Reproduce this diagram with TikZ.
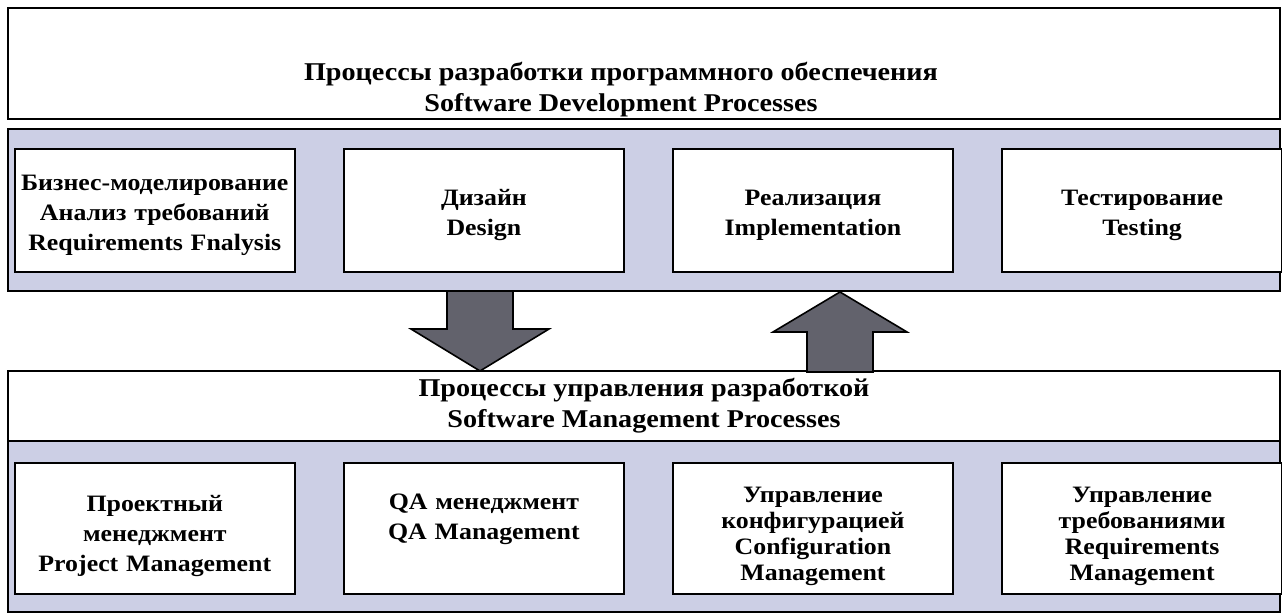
\documentclass[tikz,border=0pt]{standalone}
\usepackage{fontspec}
\setmainfont{Liberation Serif}[FakeStretch=1.1]
\usetikzlibrary{positioning}

\definecolor{bandblue}{RGB}{204,207,229}
\definecolor{arrowgray}{RGB}{98,98,108}

\begin{document}
\begin{tikzpicture}[
    x=0.5pt, y=-0.5pt,
    node distance=23.75pt,
    every node/.style={font=\bfseries\fontsize{11.75}{15}\selectfont},
    headtext/.style={align=center, font=\bfseries\fontsize{12.8}{15.5}\selectfont},
    headbox/.style={rectangle, draw=black, thick, fill=white, minimum width=636pt, inner sep=0},
    band/.style={rectangle, draw=black, thick, fill=bandblue, minimum width=636pt, inner sep=0},
    procbox/.style={rectangle, draw=black, thick, fill=white, text width=138pt, align=center, minimum width=140pt, inner sep=1pt},
    tight/.style={font=\bfseries\fontsize{11.75}{13}\selectfont},
    bigarrow/.style={draw=black, thick, fill=arrowgray}
]
\useasboundingbox (0,0) rectangle (1282,613);

% Development layer
\node[headbox, minimum height=55.5pt,
      label={[headtext, xshift=-11.5pt, yshift=-13pt]center:{Процессы разработки программного обеспечения\\Software Development Processes}}] (devhead) at (644,63.5) {};
\node[band, minimum height=81pt] (devband) at (644,210) {};

\begin{scope}[every node/.append style={minimum height=61.5pt, text height=13pt}]
\node[procbox, anchor=north west] (business) at (14,148) {Бизнес-моделирование\\Анализ требований\\Requirements Fnalysis};
\node[procbox, right=of business] (design) {Дизайн\\Design};
\node[procbox, right=of design] (implement) {Реализация\\Implementation};
\node[procbox, right=of implement] (testing) {Тестирование\\Testing};
\end{scope}

% Management layer
\node[headbox, headtext, minimum height=35pt] (mgmthead) at (644,406) {Процессы управления разработкой\\Software Management Processes};
\node[band, minimum height=85.5pt] (mgmtband) at (644,526.5) {};

\begin{scope}[every node/.append style={minimum height=65.5pt, text height=16pt}]
\node[procbox, anchor=north west] (project) at (14,462) {Проектный\\менеджмент\\Project Management};
\node[procbox, right=of project] (qa) {QA менеджмент\\QA Management\\\strut};
\node[procbox, tight, right=of qa] (config) {Управление\\конфигурацией\\Configuration\\Management};
\node[procbox, tight, right=of config] (reqs) {Управление\\требованиями\\Requirements\\Management};
\end{scope}

% Arrows between the layers
\draw[bigarrow] (447,291) -- (447,329) -- (411,329) -- (480,371) -- (549,329) -- (513,329) -- (513,291) -- cycle;
\draw[bigarrow] (807,372) -- (807,332) -- (773,332) -- (840,292) -- (907,332) -- (873,332) -- (873,372) -- cycle;

\end{tikzpicture}
\end{document}
